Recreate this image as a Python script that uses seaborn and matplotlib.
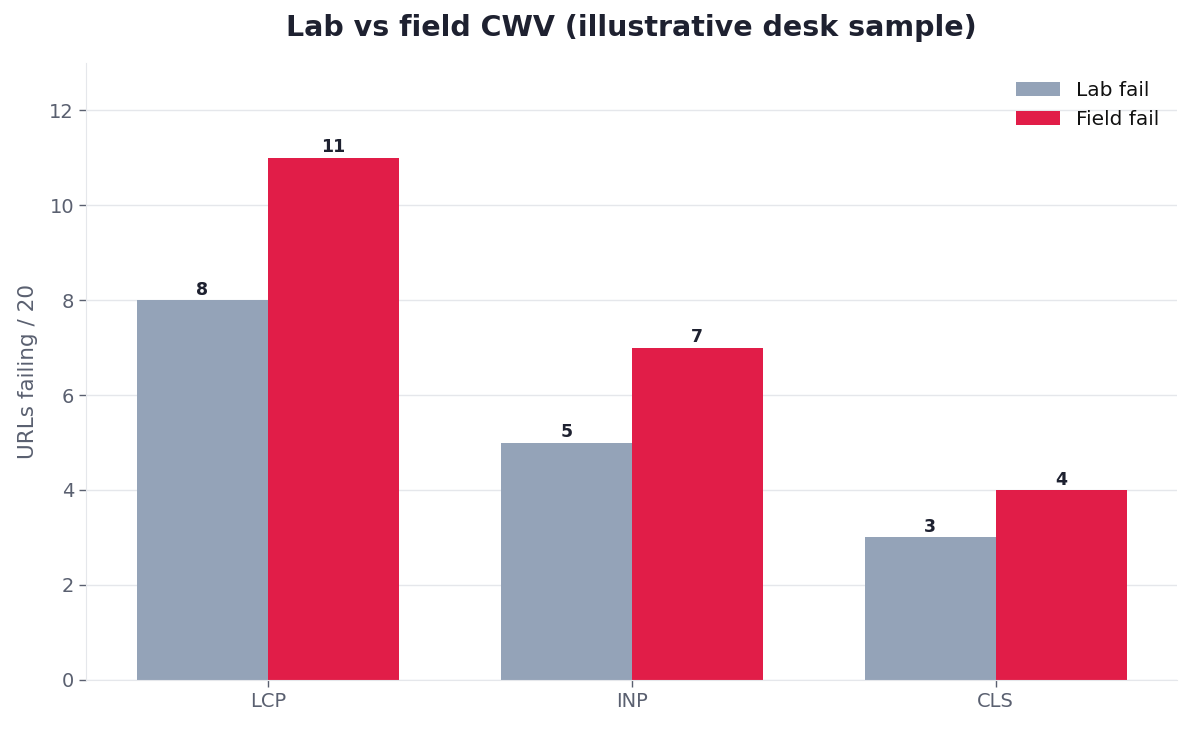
import pandas as pd
import matplotlib.pyplot as plt
import seaborn as sns

metrics = ["LCP", "INP", "CLS"]
lab_fail = [8, 5, 3]
field_fail = [11, 7, 4]
series = ["Lab fail", "Field fail"]
colors = ["#94a3b8", "#e11d48"]

df = pd.DataFrame({
    "metric": metrics * 2,
    "series": [series[0]] * 3 + [series[1]] * 3,
    "value": lab_fail + field_fail,
})

sns.set_style("white")
plt.rcParams["font.family"] = ["DejaVu Sans"]

fig, ax = plt.subplots(figsize=(11.93, 7.31), dpi=100)
fig.subplots_adjust(left=0.072, right=0.987, top=0.914, bottom=0.07)

sns.barplot(data=df, x="metric", y="value", hue="series", palette=colors,
            width=0.72, gap=0, saturation=1, ax=ax, edgecolor="none")

for c in ax.containers:
    ax.bar_label(c, fontsize=12.5, fontweight="bold", color="#1e2130", padding=1)

ax.set_ylim(0, 13)
ax.set_xlim(-0.5, 2.5)
ax.yaxis.grid(True, color="#e5e7eb", linewidth=1)
ax.set_axisbelow(True)
ax.set_xlabel("")
ax.set_ylabel("URLs failing / 20", fontsize=15.5, color="#5a6070", labelpad=8)
ax.set_title("Lab vs field CWV (illustrative desk sample)", fontsize=20.5,
             fontweight="bold", color="#1e2130", pad=19)
ax.tick_params(axis="both", labelsize=14, labelcolor="#5a6070", color="#5a6070",
               length=5, width=1, bottom=True, left=True)
for s in ["top", "right"]:
    ax.spines[s].set_visible(False)
for s in ["left", "bottom"]:
    ax.spines[s].set_color("#e5e7eb")

ax.legend(title=None, frameon=False, fontsize=14.5, loc="upper right",
          handlelength=2.2, labelcolor="#111111")

plt.savefig("out.png", dpi=100)
